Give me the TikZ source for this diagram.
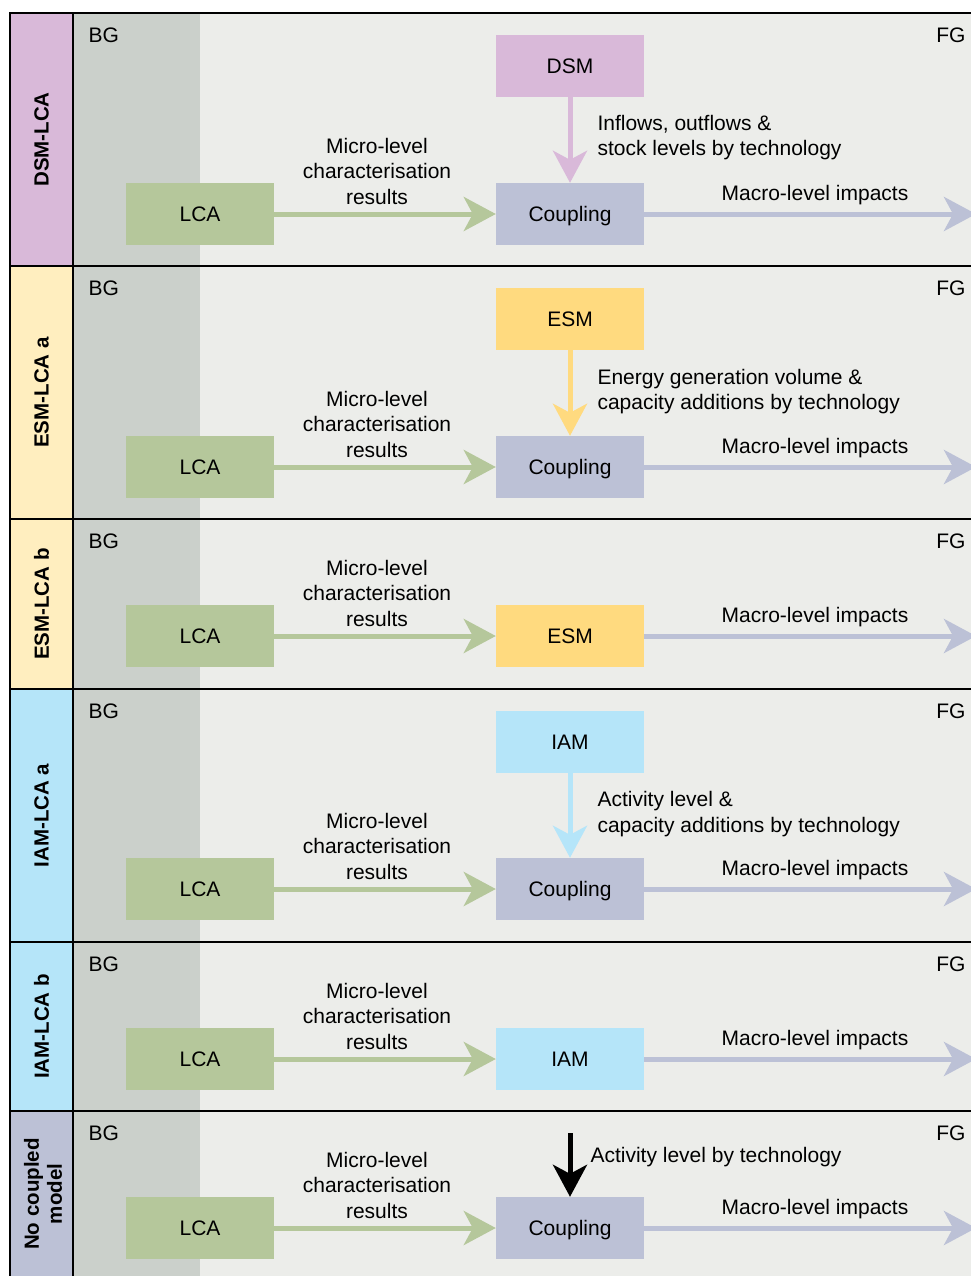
\documentclass[tikz,border=0pt]{standalone}
\usepackage{fontspec}
\setmainfont{Liberation Sans}
\usetikzlibrary{arrows.meta}
\definecolor{dsmpink}{HTML}{D9B9D9}
\definecolor{esmyellow}{HTML}{FFDA7F}
\definecolor{esmlight}{HTML}{FFEEBF}
\definecolor{iamblue}{HTML}{B5E5F9}
\definecolor{lcagreen}{HTML}{B5C79B}
\definecolor{cplgrey}{HTML}{BCC1D6}
\definecolor{bgshade}{HTML}{CBD0CB}
\definecolor{fgshade}{HTML}{ECEDEA}
\tikzset{
	model/.style={minimum width=148pt, minimum height=62pt, inner sep=0pt, text height=15pt, text depth=0pt},
	flow/.style={line width=5pt, -{Stealth[length=32pt, width=34pt, inset=9pt]}},
	rowlabel/.style={rotate=90, align=center, font=\fontsize{20.5}{23}\selectfont\bfseries},
	rowline/.style={line width=2pt}
}
\begin{document}
\begin{tikzpicture}[x=1pt, y=-1pt, every node/.style={font=\fontsize{21}{25.5}\selectfont}]
			%%%%% START %%%%%
			\clip (0, 0) rectangle (971, 1276);
			
			\fill[fgshade] (73, 13) rectangle (990, 1290);
			\fill[bgshade] (73, 13) rectangle (200, 1290);
			
			\fill[dsmpink] (10, 13) rectangle (73, 266);
			\fill[esmlight] (10, 266) rectangle (73, 689);
			\fill[iamblue] (10, 689) rectangle (73, 1111);
			\fill[cplgrey] (10, 1111) rectangle (73, 1290);
			
			\draw[rowline] (10, 1290) -- (10, 13) -- (990, 13);
			\draw[rowline] (10, 266) -- (990, 266);
			\draw[rowline] (10, 519) -- (990, 519);
			\draw[rowline] (10, 689) -- (990, 689);
			\draw[rowline] (10, 942) -- (990, 942);
			\draw[rowline] (10, 1111) -- (990, 1111);
			\draw[rowline] (73, 13) -- (73, 1290);
			
			\node[rowlabel] (dsmlca) at (41.5, 139.5) {DSM-LCA};
			\node[rowlabel] (esmlcaa) at (41.5, 392.5) {ESM-LCA a};
			\node[rowlabel] (esmlcab) at (41.5, 604) {ESM-LCA b};
			\node[rowlabel] (iamlcaa) at (41.5, 815.5) {IAM-LCA a};
			\node[rowlabel] (iamlcab) at (41.5, 1026.5) {IAM-LCA b};
			\node[rowlabel] (nocoupled) at (43, 1194) {No coupled\\model};
			
			% DSM-LCA
			\node[anchor=west] (bg1) at (85, 35) {BG};
			\node[anchor=east] (fg1) at (969, 35) {FG};
			\node[model, fill=dsmpink] (dsm1) at (570, 66) {DSM};
			\node[model, fill=lcagreen] (lca1) at (200, 214) {LCA};
			\node[model, fill=cplgrey] (cpl1) at (570, 214) {Coupling};
			\coordinate (out1) at (976, 214);
			\node[align=center] (micro1) at (377, 171) {Micro-level\\characterisation\\results};
			\node (macro1) at (815, 195) {Macro-level impacts};
			\node[anchor=west, align=left] (feed1) at (594, 137.5) {Inflows, outflows \&\\stock levels by technology};
			\draw[flow, lcagreen] (lca1) -- (cpl1);
			\draw[flow, dsmpink] (dsm1) -- (cpl1);
			\draw[flow, cplgrey] (cpl1) -- (out1);
			
			% ESM-LCA a
			\node[anchor=west] (bg2) at (85, 288) {BG};
			\node[anchor=east] (fg2) at (969, 288) {FG};
			\node[model, fill=esmyellow] (esm2) at (570, 319) {ESM};
			\node[model, fill=lcagreen] (lca2) at (200, 467) {LCA};
			\node[model, fill=cplgrey] (cpl2) at (570, 467) {Coupling};
			\coordinate (out2) at (976, 467);
			\node[align=center] (micro2) at (377, 424) {Micro-level\\characterisation\\results};
			\node (macro2) at (815, 448) {Macro-level impacts};
			\node[anchor=west, align=left] (feed2) at (594, 391.5) {Energy generation volume \&\\capacity additions by technology};
			\draw[flow, lcagreen] (lca2) -- (cpl2);
			\draw[flow, esmyellow] (esm2) -- (cpl2);
			\draw[flow, cplgrey] (cpl2) -- (out2);
			
			% ESM-LCA b
			\node[anchor=west] (bg3) at (85, 541) {BG};
			\node[anchor=east] (fg3) at (969, 541) {FG};
			\node[model, fill=lcagreen] (lca3) at (200, 636) {LCA};
			\node[model, fill=esmyellow] (esm3) at (570, 636) {ESM};
			\coordinate (out3) at (976, 636);
			\node[align=center] (micro3) at (377, 593) {Micro-level\\characterisation\\results};
			\node (macro3) at (815, 617) {Macro-level impacts};
			\draw[flow, lcagreen] (lca3) -- (esm3);
			\draw[flow, cplgrey] (esm3) -- (out3);
			
			% IAM-LCA a
			\node[anchor=west] (bg4) at (85, 711) {BG};
			\node[anchor=east] (fg4) at (969, 711) {FG};
			\node[model, fill=iamblue] (iam4) at (570, 742) {IAM};
			\node[model, fill=lcagreen] (lca4) at (200, 889) {LCA};
			\node[model, fill=cplgrey] (cpl4) at (570, 889) {Coupling};
			\coordinate (out4) at (976, 889);
			\node[align=center] (micro4) at (377, 846) {Micro-level\\characterisation\\results};
			\node (macro4) at (815, 870) {Macro-level impacts};
			\node[anchor=west, align=left] (feed4) at (594, 814) {Activity level \&\\capacity additions by technology};
			\draw[flow, lcagreen] (lca4) -- (cpl4);
			\draw[flow, iamblue] (iam4) -- (cpl4);
			\draw[flow, cplgrey] (cpl4) -- (out4);
			
			% IAM-LCA b
			\node[anchor=west] (bg5) at (85, 964) {BG};
			\node[anchor=east] (fg5) at (969, 964) {FG};
			\node[model, fill=lcagreen] (lca5) at (200, 1059) {LCA};
			\node[model, fill=iamblue] (iam5) at (570, 1059) {IAM};
			\coordinate (out5) at (976, 1059);
			\node[align=center] (micro5) at (377, 1016) {Micro-level\\characterisation\\results};
			\node (macro5) at (815, 1040) {Macro-level impacts};
			\draw[flow, lcagreen] (lca5) -- (iam5);
			\draw[flow, cplgrey] (iam5) -- (out5);
			
			% No coupled model
			\node[anchor=west] (bg6) at (85, 1133) {BG};
			\node[anchor=east] (fg6) at (969, 1133) {FG};
			\node[model, fill=lcagreen] (lca6) at (200, 1228) {LCA};
			\node[model, fill=cplgrey] (cpl6) at (570, 1228) {Coupling};
			\coordinate (in6) at (570, 1133);
			\coordinate (out6) at (976, 1228);
			\node[align=center] (micro6) at (377, 1185) {Micro-level\\characterisation\\results};
			\node (macro6) at (815, 1209) {Macro-level impacts};
			\node[anchor=west] (feed6) at (587, 1157) {Activity level by technology};
			\draw[flow, lcagreen] (lca6) -- (cpl6);
			\draw[flow, black] (in6) -- (cpl6);
			\draw[flow, cplgrey] (cpl6) -- (out6);
			
			%%%%% END %%%%%
\end{tikzpicture}
\end{document}
